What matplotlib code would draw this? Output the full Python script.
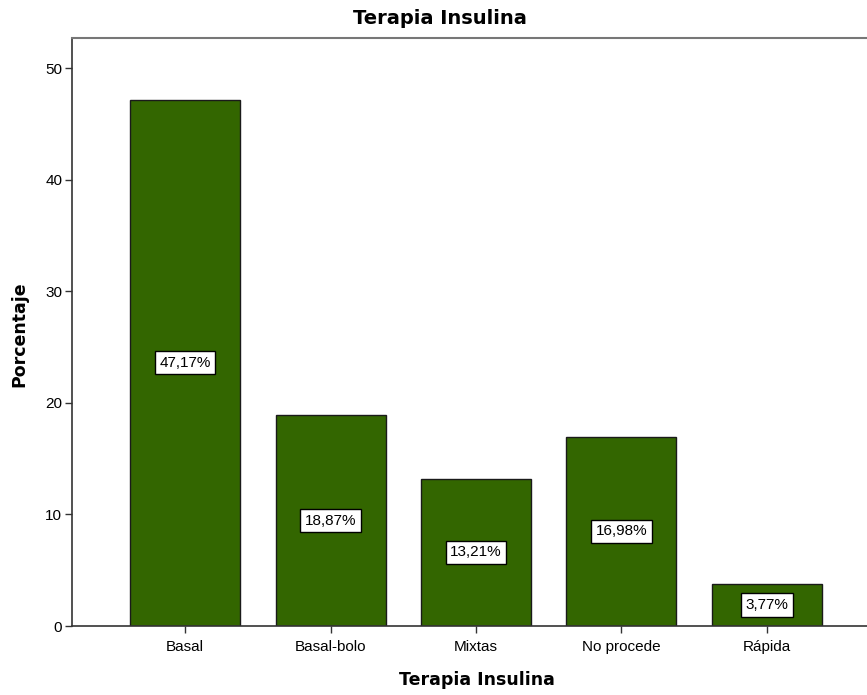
import matplotlib

matplotlib.use("Agg")
import matplotlib.pyplot as plt

categories = ["Basal", "Basal-bolo", "Mixtas", "No procede", "Rápida"]
percentages = [47.17, 18.87, 13.21, 16.98, 3.77]
pct_labels = ["47,17%", "18,87%", "13,21%", "16,98%", "3,77%"]
y_ticks = [0, 10, 20, 30, 40, 50]

plt.rcParams["font.family"] = ["Liberation Sans", "DejaVu Sans"]

W, H = 867, 695
fig = plt.figure(figsize=(W / 100, H / 100), dpi=100)
# axes box in pixels: left 72, top 38, bottom 626, right runs past the image edge
left, top, bottom, right = 72, 38, 626, 880
ax = fig.add_axes([left / W, 1 - bottom / H, (right - left) / W, (bottom - top) / H])

x = range(len(categories))
ax.bar(x, percentages, width=0.756, color="#336600", edgecolor="#1a1a1a", linewidth=1.0, zorder=2)

for xi, v, lab in zip(x, percentages, pct_labels):
    ax.text(xi, v / 2, lab, ha="center", va="center", fontsize=11, color="black", zorder=3,
            bbox=dict(boxstyle="square,pad=0.3", facecolor="white", edgecolor="black", linewidth=1.0))

ax.set_xlim(-0.777, 4.777)
ax.set_ylim(0, 52.7)
ax.set_yticks(y_ticks)
ax.set_xticks(list(x))
ax.set_xticklabels(categories)
ax.tick_params(axis="both", labelsize=11, length=5, width=1, color="#333333", pad=2)
ax.tick_params(axis="x", pad=5)

for side in ["left", "bottom"]:
    ax.spines[side].set_color("#333333")
    ax.spines[side].set_linewidth(1.2)
ax.spines["top"].set_color("#777777")
ax.spines["top"].set_linewidth(1.5)
ax.spines["right"].set_visible(False)

title_font = dict(family="DejaVu Sans", fontweight="bold")
fig.text(440 / W, 1 - 19 / H, "Terapia Insulina", ha="center", va="center", fontsize=14, **title_font)
fig.text(477 / W, 1 - 680 / H, "Terapia Insulina", ha="center", va="center", fontsize=12.5, **title_font)
fig.text(19 / W, 1 - 334 / H, "Porcentaje", ha="center", va="center", rotation=90, fontsize=12.5, **title_font)

fig.savefig("out.png", dpi=100, facecolor="white")
